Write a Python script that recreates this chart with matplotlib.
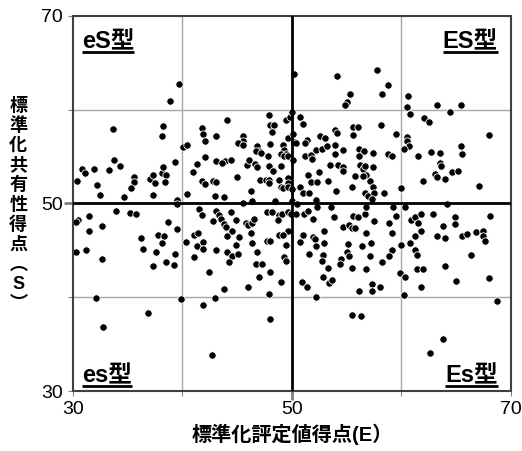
import matplotlib
matplotlib.use("Agg")
import matplotlib.pyplot as plt

plt.rcParams["font.family"] = ["Liberation Sans", "Noto Sans CJK JP", "DejaVu Sans"]

# (E, S) 得点 ― 読み取り値
upper_left = [
    (39.7, 62.7), (38.85, 60.9), (33.7, 57.9), (38.2, 58.2), (38.1, 57.2), (33.8, 54.6),
    (34.3, 54.0), (30.85, 53.7), (31.1, 53.2), (31.9, 53.7), (30.4, 52.4), (33.3, 53.6),
    (32.2, 52.0), (32.5, 50.9), (34.7, 50.7), (35.6, 52.8), (35.6, 52.3), (35.3, 51.7),
    (37.0, 52.6), (37.3, 53.0), (37.5, 52.2), (38.1, 53.2), (38.2, 53.9), (38.5, 53.0),
    (38.4, 52.3), (39.3, 54.4), (37.3, 50.9), (39.5, 50.4), (39.5, 49.9), (40.4, 51.0),
    (40.1, 56.0), (40.4, 56.2), (41.8, 58.0), (41.9, 57.4), (42.1, 56.7), (43.1, 57.2),
    (42.1, 54.9), (41.3, 54.2), (41.0, 53.4), (41.8, 52.4), (42.1, 52.1), (42.8, 52.4),
    (43.1, 54.5), (43.1, 52.3), (42.97, 50.8),
]
upper_mid = [
    (50.2, 63.8), (54.1, 63.6), (55.3, 61.6), (55.0, 60.8), (54.8, 60.5), (44.1, 58.9),
    (47.9, 59.4), (48.0, 58.4), (48.4, 58.4), (48.2, 57.6), (49.5, 58.9), (49.8, 59.2),
    (50.0, 59.7), (50.7, 59.2), (51.0, 58.5), (45.5, 57.2), (45.5, 56.7), (45.1, 56.4),
    (45.5, 56.2), (49.6, 57.0), (50.1, 57.4), (50.2, 56.5), (50.4, 56.4), (51.4, 56.8),
    (51.2, 56.4), (52.6, 57.2), (53.0, 57.0), (53.9, 57.8), (54.1, 57.5), (55.6, 58.1),
    (56.0, 58.1), (55.6, 57.3), (48.0, 56.3), (46.8, 56.1), (47.0, 55.6), (46.7, 55.6),
    (47.2, 55.4), (47.8, 55.1), (49.2, 56.2), (49.3, 55.7), (49.0, 55.3), (49.5, 55.3),
    (49.3, 55.0), (49.6, 55.0), (50.1, 54.6), (51.2, 55.1), (51.7, 55.2), (51.8, 54.7),
    (52.2, 55.7), (52.7, 55.8), (53.2, 56.1), (53.9, 56.2), (53.9, 55.3), (54.7, 55.7),
    (56.1, 55.8), (56.6, 55.6), (56.1, 55.0), (43.9, 54.5), (43.6, 54.3), (44.4, 54.6),
    (45.9, 54.1), (46.1, 54.6), (46.6, 54.2), (46.8, 53.9), (47.9, 54.0), (48.3, 53.5),
    (49.0, 54.0), (45.0, 52.8), (47.1, 52.5), (47.6, 52.5), (47.9, 52.5), (47.9, 52.2),
    (48.8, 52.5), (49.0, 51.8), (49.2, 51.7), (49.6, 52.7), (49.6, 52.2), (49.6, 51.8),
    (50.0, 51.5), (50.0, 50.3), (50.7, 51.8), (51.0, 51.1), (51.6, 51.1), (51.5, 53.0),
    (51.7, 52.3), (52.3, 52.3), (52.5, 53.4), (53.3, 52.4), (53.5, 54.1), (54.2, 54.1),
    (54.7, 53.9), (54.7, 53.5), (54.0, 51.3), (55.5, 51.8), (55.8, 52.9), (56.2, 54.1),
    (56.5, 53.7), (56.7, 54.0), (56.8, 53.0), (56.5, 52.9), (56.7, 51.1), (56.9, 50.8),
    (46.3, 51.3), (43.8, 50.7), (45.5, 50.1), (46.4, 50.3), (48.5, 50.3), (52.2, 50.4),
]
upper_right = [
    (57.8, 64.2), (58.8, 62.6), (58.2, 61.7), (60.6, 61.4), (60.5, 60.3), (60.8, 59.5),
    (63.2, 60.5), (64.4, 59.7), (65.4, 60.5), (62.1, 59.1), (62.5, 58.7), (58.1, 58.3),
    (59.5, 57.4), (60.5, 57.1), (60.5, 56.7), (68.0, 57.3), (60.7, 56.1), (60.2, 55.8),
    (57.4, 55.4), (58.8, 55.3), (59.1, 55.0), (61.5, 55.1), (62.7, 55.5), (63.5, 55.4),
    (65.4, 56.1), (65.5, 55.3), (63.5, 54.3), (63.6, 54.0), (57.4, 53.9), (63.1, 53.1),
    (63.2, 52.8), (64.6, 53.4), (65.2, 53.5), (64.0, 52.6), (62.0, 52.4), (57.1, 52.4),
    (57.4, 51.8), (57.5, 51.1), (58.4, 51.1), (60.0, 51.7), (67.1, 51.9), (57.3, 50.5),
]
lower_left = [
    (30.5, 48.2), (30.3, 48.0), (31.5, 48.7), (31.5, 47.1), (32.7, 47.6), (33.9, 49.2),
    (35.2, 49.0), (35.8, 48.9), (30.3, 44.8), (31.2, 45.0), (32.7, 44.1), (36.2, 46.3),
    (36.4, 45.2), (37.6, 44.8), (37.8, 46.7), (38.3, 46.5), (38.1, 45.8), (38.7, 48.0),
    (39.5, 47.3), (39.3, 44.6), (37.3, 43.4), (38.5, 43.8), (39.2, 43.5), (40.3, 45.9),
    (41.1, 46.6), (41.4, 46.9), (41.3, 45.5), (41.9, 45.9), (41.9, 45.2), (41.1, 44.3),
    (41.5, 49.4), (41.8, 48.8), (43.1, 49.2), (43.3, 48.8), (42.8, 48.1), (43.1, 45.0),
    (42.4, 42.7), (32.1, 39.9), (39.9, 39.8), (36.9, 38.4), (41.9, 39.2), (43.0, 39.9),
    (32.8, 36.9), (42.7, 33.9),
]
lower_mid = [
    (43.5, 48.4), (43.8, 47.8), (44.0, 47.5), (44.4, 49.1), (44.9, 48.2), (44.5, 47.1),
    (44.1, 46.5), (45.2, 46.4), (44.9, 45.6), (44.1, 44.8), (44.5, 44.4), (45.1, 44.6),
    (44.3, 43.8), (45.8, 47.9), (46.0, 47.7), (46.4, 47.9), (46.5, 48.4), (46.3, 46.9),
    (46.4, 45.8), (47.7, 49.1), (48.2, 49.1), (48.8, 48.8), (49.1, 48.9), (49.6, 49.1),
    (49.9, 48.9), (48.7, 48.2), (49.6, 47.1), (48.8, 46.7), (49.2, 46.7), (47.7, 46.0),
    (48.0, 46.0), (49.5, 45.6), (46.8, 44.8), (49.3, 44.3), (49.5, 43.9), (46.7, 43.6),
    (47.3, 43.6), (48.0, 42.7), (47.0, 42.2), (49.0, 41.7), (46.0, 41.1), (43.8, 40.9),
    (47.9, 40.4), (48.0, 37.7), (50.5, 49.9), (50.4, 48.9), (51.1, 48.9), (51.5, 49.2),
    (51.9, 48.4), (52.3, 49.6), (53.6, 49.6), (53.8, 48.6), (51.0, 46.7), (50.7, 45.9),
    (51.9, 46.4), (52.1, 46.2), (52.2, 45.5), (52.9, 47.1), (52.9, 45.8), (51.6, 44.6),
    (52.8, 44.5), (52.7, 43.9), (53.3, 43.1), (52.8, 42.2), (53.4, 41.5), (53.7, 41.9),
    (50.9, 41.7), (51.4, 41.1), (52.2, 40.0), (54.7, 47.5), (55.2, 47.7), (55.5, 47.4),
    (55.8, 47.4), (55.6, 48.7), (56.0, 48.6), (56.7, 48.9), (56.8, 46.9), (55.1, 45.7),
    (56.4, 45.5), (55.0, 44.8), (54.5, 44.1), (54.4, 43.6), (55.2, 44.4), (55.5, 43.1),
    (56.8, 43.0), (56.1, 40.7), (55.5, 38.1), (56.3, 38.0), (56.8, 49.6),
]
lower_right = [
    (57.5, 48.1), (59.2, 49.6), (60.3, 49.6), (64.2, 49.9), (59.5, 48.7), (58.9, 47.9),
    (59.1, 46.9), (57.2, 45.8), (60.0, 45.6), (59.1, 45.1), (58.9, 44.4), (58.2, 43.8),
    (57.1, 44.4), (59.9, 42.6), (60.3, 42.2), (57.3, 41.4), (57.3, 40.7), (58.0, 41.1),
    (60.2, 40.3), (60.9, 48.2), (61.2, 48.6), (61.8, 48.9), (61.5, 47.9), (61.8, 47.1),
    (61.2, 46.5), (60.8, 45.8), (61.2, 45.1), (61.4, 44.5), (61.4, 43.0), (62.0, 43.0),
    (61.8, 41.1), (62.9, 48.9), (63.8, 47.6), (63.2, 46.5), (64.0, 46.3), (64.0, 43.3),
    (64.9, 48.6), (64.9, 47.8), (65.5, 46.5), (66.0, 46.8), (66.8, 47.0), (67.4, 47.1),
    (67.4, 46.5), (67.6, 46.0), (68.1, 48.7), (66.3, 44.5), (65.0, 41.8), (68.0, 42.1),
    (68.7, 39.6), (63.8, 35.6), (62.6, 34.1),
]

axis_ticks = [30, 40, 50, 60, 70]
tick_labels = ["30", "", "50", "", "70"]
grid_vals = [40, 60]
center_val = 50
quadrant_labels = ["eS型", "ES型", "es型", "Es型"]

points = upper_left + upper_mid + upper_right + lower_left + lower_mid + lower_right
e_scores = [p[0] for p in points]
s_scores = [p[1] for p in points]

fig = plt.figure(figsize=(5.22, 4.51), dpi=100)
ax = fig.add_axes([0.1395, 0.132, 0.8395, 0.8336])
ax.set_xlim(30, 70)
ax.set_ylim(30, 70)
ax.set_xticks(axis_ticks)
ax.set_xticklabels(tick_labels)
ax.set_yticks(axis_ticks)
ax.set_yticklabels(tick_labels)
ax.tick_params(direction="out", length=3.6, width=0.8, color="#808080",
               labelsize=14, pad=3.5)
for sp in ax.spines.values():
    sp.set_color("#404040")
    sp.set_linewidth(1.5)

for v in grid_vals:
    ax.axvline(v, color="#a6a6a6", lw=1, zorder=1)
    ax.axhline(v, color="#a6a6a6", lw=1, zorder=1)

ax.scatter(e_scores, s_scores, s=28, c="black", edgecolors="white",
           linewidths=0.6, zorder=2)

ax.axvline(center_val, color="black", lw=2, zorder=3)
ax.axhline(center_val, color="black", lw=2, zorder=3)
for tk in (ax.xaxis.get_major_ticks()[2], ax.yaxis.get_major_ticks()[2]):
    tk.tick1line.set_markersize(6.5)
    tk.tick1line.set_markeredgewidth(2)
    tk.tick1line.set_color("black")

ax.set_xlabel("標準化評定値得点(E）", fontsize=14.5, fontweight="bold", labelpad=4)
fig.text(0.035, 0.545, "\n".join("標準化共有性得点︵S︶"), fontsize=13,
         fontweight="bold", ha="center", va="center", linespacing=1.2)

# 四象限のラベル（下線付き）
pos = [(0.021, 0.912, "left"), (0.970, 0.912, "right"),
       (0.021, 0.024, "left"), (0.970, 0.024, "right")]
r = fig.canvas.get_renderer()
inv = ax.transAxes.inverted()
for lab, (x, y, ha) in zip(quadrant_labels, pos):
    t = ax.text(x, y, lab, transform=ax.transAxes, ha=ha, va="baseline",
                fontsize=17, fontweight="bold", zorder=4)
    bb = t.get_window_extent(r)
    ux = inv.transform([[bb.x0, bb.y0], [bb.x1, bb.y0]])[:, 0]
    uy = y - 0.01
    ax.plot(ux, [uy, uy], transform=ax.transAxes, color="black", lw=2,
            solid_capstyle="butt", clip_on=False, zorder=5)

fig.savefig("out.png", dpi=100)
